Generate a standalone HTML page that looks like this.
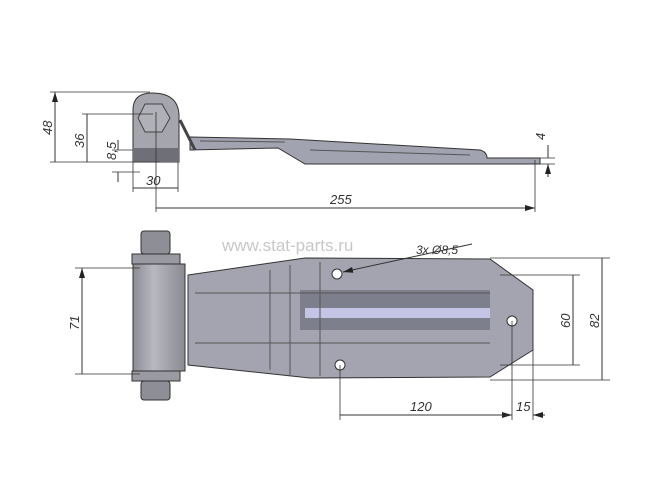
<!DOCTYPE html>
<html><head><style>body{margin:0;background:#fff}svg{display:block}</style></head><body>
<svg width="650" height="487" viewBox="0 0 650 487" xmlns="http://www.w3.org/2000/svg" font-family="Liberation Sans, sans-serif">
<defs>
<marker id="a" viewBox="0 0 10 6" refX="10" refY="3" markerWidth="10" markerHeight="6" orient="auto-start-reverse"><path d="M0,0L10,3L0,6z" fill="#222"/></marker>
<linearGradient id="g1" x1="0" x2="1"><stop offset="0" stop-color="#8d8d96"/><stop offset="0.4" stop-color="#b8b8c0"/><stop offset="1" stop-color="#8a8a94"/></linearGradient>
</defs>
<g stroke="#333" stroke-width="1" fill="none">
<!-- TOP VIEW -->
<path d="M190,137 L290,139 L480,150 Q487,152 487,158 L540,158 L540,164 L305,164 L278,148 L190,150 Z" fill="#a2a3b0"/>
<path d="M200,141 L285,142 M310,150 L470,155" stroke="#555"/>
<path d="M180,120 L195,150" stroke="#444" stroke-width="3"/>
<path d="M133,162 L133,110 Q133,93 152,93 Q178,93 179,115 L179,162 Z" fill="#a5a5ae"/>
<rect x="133" y="148" width="46" height="14" fill="#6f6f78" stroke="none"/>
<polygon points="145,104 162,104 170,118 162,132 145,132 138,118" fill="#b0b0b8" stroke="#444"/>
<!-- dims top -->
<path d="M50,92 L150,92 M82,114 L153,114 M50,162 L160,162 M112,150 L133,150 M112,172 L140,172 M133,162 L133,192 M178,162 L178,192 M156,112 L156,212 M535,160 L535,212 M530,158 L555,158 M530,164 L555,164" stroke-width="0.8"/>
<path d="M55,92 L55,162 M87,114 L87,162 M133,188 L178,188 M156,208 L535,208" marker-start="url(#a)" marker-end="url(#a)"/>
<path d="M118,140 L118,150 M118,182 L118,172 M548,145 L548,158 M548,177 L548,164" marker-end="url(#a)"/>
<!-- BOTTOM VIEW -->
<path d="M188,275 L305,258 L490,259 L533,290 L533,350 L490,377 L310,378 L188,365 Z" fill="#a3a4b0"/>
<rect x="300" y="290" width="190" height="40" fill="#7e7f8c" stroke="none"/>
<rect x="305" y="308" width="185" height="10" fill="#c4c4e4" stroke="none"/>
<path d="M195,293 L490,293 M195,343 L490,343 M270,270 L270,370 M290,265 L290,375 M320,262 L320,376" stroke="#555"/>
<rect x="141" y="231" width="29" height="23" rx="3" fill="#8e8e96"/>
<rect x="132" y="254" width="48" height="10" fill="#9a9aa2"/>
<rect x="133" y="264" width="52" height="107" fill="url(#g1)"/>
<rect x="132" y="371" width="48" height="10" fill="#9a9aa2"/>
<rect x="141" y="381" width="29" height="19" rx="3" fill="#8e8e96"/>
<circle cx="337" cy="274" r="5" fill="#fff"/>
<circle cx="512" cy="321" r="5" fill="#fff"/>
<circle cx="340" cy="365" r="5" fill="#fff"/>
<!-- dims bottom -->
<path d="M75,268 L140,268 M75,374 L140,374 M490,258 L610,258 M500,275 L580,275 M500,365 L580,365 M490,380 L610,380 M340,365 L340,420 M512,321 L512,420 M533,350 L533,420" stroke-width="0.8"/>
<path d="M82,268 L82,374 M573,275 L573,365 M602,258 L602,380 M340,415 L512,415" marker-start="url(#a)" marker-end="url(#a)"/>
<path d="M500,415 L512,415 M545,415 L533,415" marker-end="url(#a)"/>
<path d="M472,244 L343,272" marker-end="url(#a)"/>
</g>
<g fill="#333" font-size="13" font-style="italic">
<text x="0" y="0" transform="translate(52,135) rotate(-90)">48</text>
<text x="0" y="0" transform="translate(84,148) rotate(-90)">36</text>
<text x="0" y="0" transform="translate(116,160) rotate(-90)">8,5</text>
<text x="146" y="185">30</text>
<text x="330" y="204">255</text>
<text x="0" y="0" transform="translate(545,140) rotate(-90)">4</text>
<text x="0" y="0" transform="translate(79,330) rotate(-90)">71</text>
<text x="0" y="0" transform="translate(570,328) rotate(-90)">60</text>
<text x="0" y="0" transform="translate(599,328) rotate(-90)">82</text>
<text x="410" y="411">120</text>
<text x="516" y="411">15</text>
<text x="416" y="254" font-size="12">3x Ø8,5</text>
</g>
<text x="222" y="251" font-size="17" fill="#c8c8c8">www.stat-parts.ru</text>
</svg>
</body></html>
